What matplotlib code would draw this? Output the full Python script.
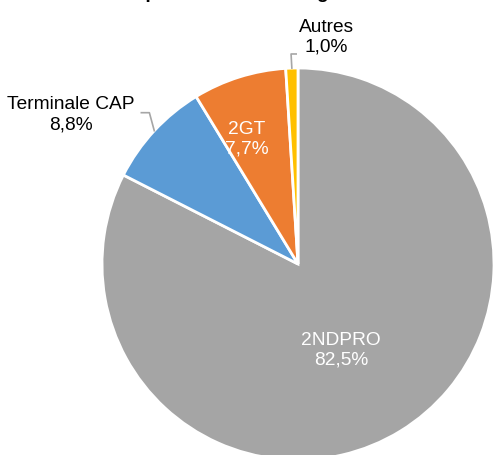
import numpy as np
import matplotlib
matplotlib.use("Agg")
import matplotlib.pyplot as plt

categories = ["2NDPRO", "Terminale CAP", "2GT", "Autres"]
values = [82.5, 8.8, 7.7, 1.0]
colors = ["#A5A5A5", "#5B9BD5", "#ED7D31", "#FFC000"]
title = "Répartition selon l'origine"

plt.rcParams['font.family'] = ['Liberation Sans', 'DejaVu Sans']

W, H = 493, 455
fig = plt.figure(figsize=(W / 100, H / 100), dpi=100)
fig.patch.set_facecolor("white")

cx, cy, R = 298, 264, 196
ax = fig.add_axes([(cx - R) / W, (H - cy - R) / H, 2 * R / W, 2 * R / H])

wedges, _ = ax.pie(values, colors=colors, startangle=90, counterclock=False,
                   radius=1, wedgeprops=dict(edgecolor="white", linewidth=2))
ax.set_xlim(-1, 1)
ax.set_ylim(-1, 1)
ax.axis("off")
for w in wedges:
    w.set_clip_on(False)

fs = 13.8
ls = 1.22

def fmt(v):
    return f"{v:.1f}".replace(".", ",") + "%"

def mid(w):
    return np.deg2rad((w.theta1 + w.theta2) / 2)

# inside labels
inside = {0: (0.49, -5.0), 2: (0.69, 5.0)}  # radius, angle tweak (deg)
for i, (r, dt) in inside.items():
    a = mid(wedges[i]) + np.deg2rad(dt)
    ax.text(r * np.cos(a), r * np.sin(a), f"{categories[i]}\n{fmt(values[i])}",
            ha="center", va="center", color="white", fontsize=fs, linespacing=ls)

# outside labels with leader lines
lc = "#A6A6A6"
# Terminale CAP
a = mid(wedges[1])
p0 = np.array([np.cos(a), np.sin(a)])
p1 = np.array([p0[0] - 0.025, p0[1] + 0.092])
p2 = np.array([p1[0] - 0.041, p1[1]])
ax.plot([p0[0], p1[0], p2[0]], [p0[1], p1[1], p2[1]], color=lc, lw=1.2, clip_on=False)
ax.text(p2[0] - 0.36, p2[1] - 0.01, f"{categories[1]}\n{fmt(values[1])}",
        ha="center", va="center", fontsize=fs, linespacing=ls, clip_on=False)

# Autres
a = mid(wedges[3])
p0 = np.array([np.cos(a), np.sin(a)])
p1 = np.array([p0[0] - 0.004, p0[1] + 0.072])
p2 = np.array([p1[0] + 0.026, p1[1]])
ax.plot([p0[0], p1[0], p2[0]], [p0[1], p1[1], p2[1]], color=lc, lw=1.2, clip_on=False)
ax.text(p2[0] + 0.155, p2[1] + 0.085, f"{categories[3]}\n{fmt(values[3])}",
        ha="center", va="center", fontsize=fs, linespacing=ls, clip_on=False)

fig.text(239 / W, 1 + 2 / H, title, ha="center", va="baseline",
         fontsize=fs, fontweight="bold")

fig.savefig("out.png", dpi=100, facecolor="white")
